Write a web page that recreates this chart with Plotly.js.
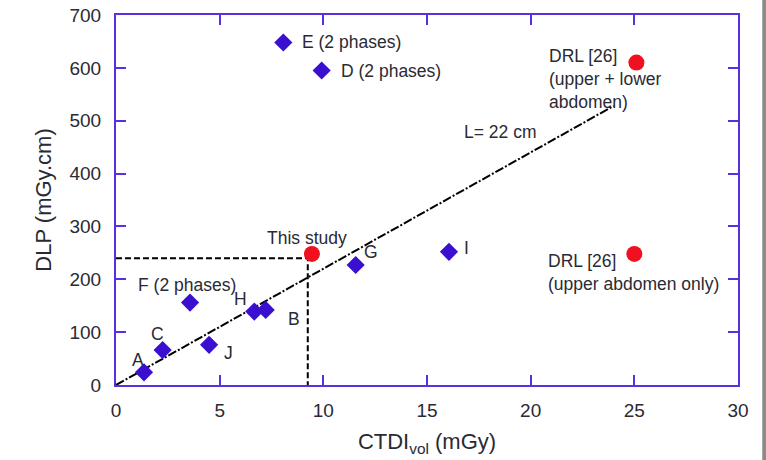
<!DOCTYPE html>
<html>
<head>
<meta charset="utf-8">
<script src="https://cdn.plot.ly/plotly-3.0.1.min.js"></script>
<style>html,body{margin:0;padding:0;background:#fff;}#chart{width:766px;height:460px;}</style>
</head>
<body>
<div id="chart"></div>
<script>
// Blue diamonds (studies)
const studyLabels = ['A', 'C', 'F', 'J', 'H', 'B', 'G', 'I', 'E', 'D'];
const studyCtdi = [1.35, 2.25, 3.57, 4.49, 6.67, 7.22, 11.56, 16.06, 8.07, 9.92];
const studyDlp = [24, 66, 156, 76, 139, 142, 227, 252, 648, 595];

// Red circles (this study and DRLs)
const refLabels = ['This study', 'DRL [26] (upper + lower abdomen)', 'DRL [26] (upper abdomen only)'];
const refCtdi = [9.45, 25.1, 25.0];
const refDlp = [248, 610, 248];

// L = 22 cm line
const lineCtdi = [0, 24];
const lineDlp = [0, 528];

// Guide lines for this study
const guideCtdi = [0, 9.25, 9.25];
const guideDlp = [240, 240, 0];

// Text labels
const labelTexts = ['E (2 phases)', 'D (2 phases)', 'DRL [26]<br>(upper + lower<br>abdomen)', 'L= 22 cm',
  'This study', 'G', 'F (2 phases)', 'H', 'B', 'C', 'A', 'J', 'I', 'DRL [26]<br>(upper abdomen only)'];
const labelX = [8.87, 10.76, 20.79, 16.69, 7.19, 11.87, 0.96, 5.6, 8.2, 1.59, 0.68, 5.11, 16.69, 20.74];
const labelY = [649, 594, 578, 479, 278, 252, 189, 163, 125, 96, 47, 60, 259, 212];

const axisColor = '#5a2fe0';
const textColor = '#2a2a33';
const fontFam = '"Liberation Sans", Arial, sans-serif';

const traces = [
  {x: guideCtdi, y: guideDlp, mode: 'lines', line: {color: '#000', width: 2, dash: '6px,3px'}, hoverinfo: 'skip'},
  {x: lineCtdi, y: lineDlp, mode: 'lines', line: {color: '#000', width: 2, dash: '9px,2px,2px,2px'}, hoverinfo: 'skip'},
  {x: studyCtdi, y: studyDlp, text: studyLabels, mode: 'markers', marker: {symbol: 'diamond', size: 14, color: '#3a0fd0'}},
  {x: refCtdi, y: refDlp, text: refLabels, mode: 'markers', marker: {symbol: 'circle', size: 16, color: '#f01020'}}
];

const annotations = labelTexts.map((t, i) => ({
  x: labelX[i], y: labelY[i], xref: 'x', yref: 'y', text: t, showarrow: false,
  xanchor: 'left', yanchor: 'middle', align: 'left',
  font: {family: fontFam, size: 17.5, color: textColor}
}));

const axisCommon = {
  showline: true, linecolor: axisColor, linewidth: 2, mirror: 'allticks',
  ticks: 'inside', ticklen: 10, tickwidth: 2, tickcolor: axisColor,
  showgrid: false, zeroline: false,
  tickfont: {family: fontFam, size: 19, color: textColor}
};

const layout = {
  width: 766, height: 460,
  margin: {l: 116, r: 28, t: 15, b: 75},
  paper_bgcolor: '#fff', plot_bgcolor: '#fff',
  showlegend: false,
  font: {family: fontFam, color: textColor},
  xaxis: Object.assign({}, axisCommon, {
    range: [0, 30], dtick: 5, tick0: 0, ticklabelstandoff: 7,
    title: {text: 'CTDI<sub>vol</sub> (mGy)', font: {family: fontFam, size: 22, color: textColor}, standoff: 14}
  }),
  yaxis: Object.assign({}, axisCommon, {
    range: [0, 700], dtick: 100, tick0: 0, ticklabelstandoff: 9,
    title: {text: 'DLP (mGy.cm)', font: {family: fontFam, size: 22, color: textColor}, standoff: 12}
  }),
  annotations: annotations,
  shapes: [{type: 'rect', xref: 'paper', yref: 'paper', x0: 1.039, x1: 1.05, y0: -0.21, y1: 1.05,
    fillcolor: '#8a8a8a', line: {width: 0}, layer: 'below'}]
};

Plotly.newPlot('chart', traces, layout, {displayModeBar: false, staticPlot: true});
</script>
</body>
</html>
